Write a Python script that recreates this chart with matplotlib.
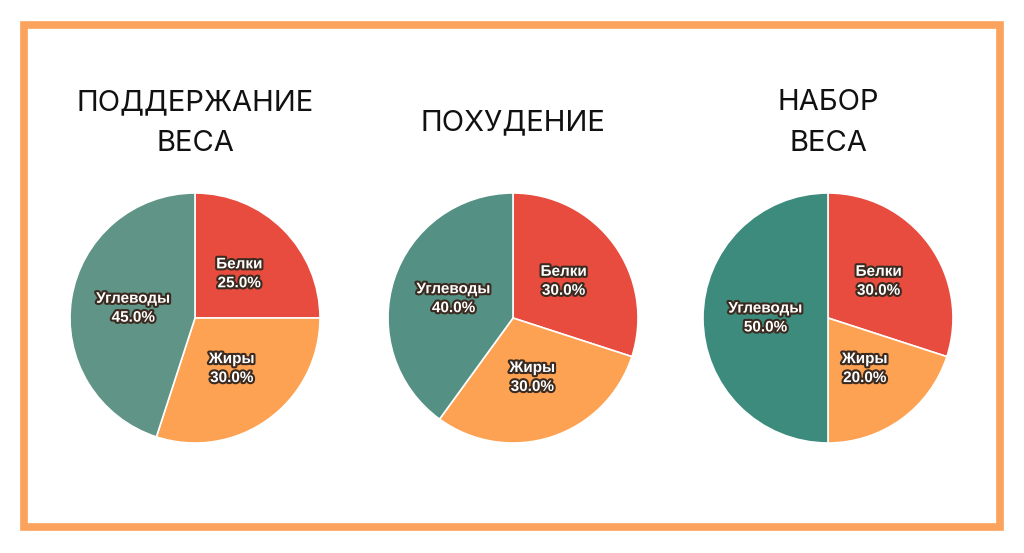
import matplotlib
matplotlib.use("Agg")
import matplotlib.pyplot as plt
import matplotlib.patheffects as pe
from matplotlib.patches import Rectangle

# data
titles = ["ПОДДЕРЖАНИЕ\nВЕСА", "ПОХУДЕНИЕ", "НАБОР\nВЕСА"]
labels = ["Белки", "Жиры", "Углеводы"]
shares = [
    [25, 30, 45],
    [30, 30, 40],
    [30, 20, 50],
]
teal_shades = ["#5f9486", "#559084", "#3d8b7d"]
red = "#e84c3f"
orange = "#fda152"

W, H = 1024, 553
fig = plt.figure(figsize=(W / 100, H / 100), dpi=100)
fig.patch.set_facecolor("white")

# orange frame
fig.patches.append(Rectangle((24 / W, 1 - 527 / H), 976 / W, 502 / H,
                             transform=fig.transFigure, fill=False,
                             edgecolor="#fba35c", linewidth=5.5))

centers_x = [195, 513, 828]
cy = 318
r = 125

for i in range(3):
    cx = centers_x[i]
    ax = fig.add_axes([(cx - r) / W, 1 - (cy + r) / H, 2 * r / W, 2 * r / H])
    vals = shares[i]
    wedges, texts = ax.pie(
        vals, labels=[f"{l}\n{v:.1f}%" for l, v in zip(labels, vals)],
        colors=[red, orange, teal_shades[i]], startangle=90,
        counterclock=False, labeldistance=0.5, radius=1,
        wedgeprops=dict(edgecolor="white", linewidth=1.2),
        textprops=dict(color="white", fontsize=11, fontweight="bold",
                       family="Liberation Sans", ha="center", va="center",
                       linespacing=1.45),
    )
    for t in texts:
        t.set_path_effects([pe.withStroke(linewidth=3, foreground="#3a2a20")])
    ax.set_xlim(-1, 1)
    ax.set_ylim(-1, 1)
    ax.set_aspect("equal")
    ax.axis("off")

    fig.text(cx / W, 1 - 123 / H, titles[i], ha="center", va="center",
             fontsize=21, family="Inter", color="#111111", linespacing=1.66)

fig.savefig("out.png", dpi=100)
